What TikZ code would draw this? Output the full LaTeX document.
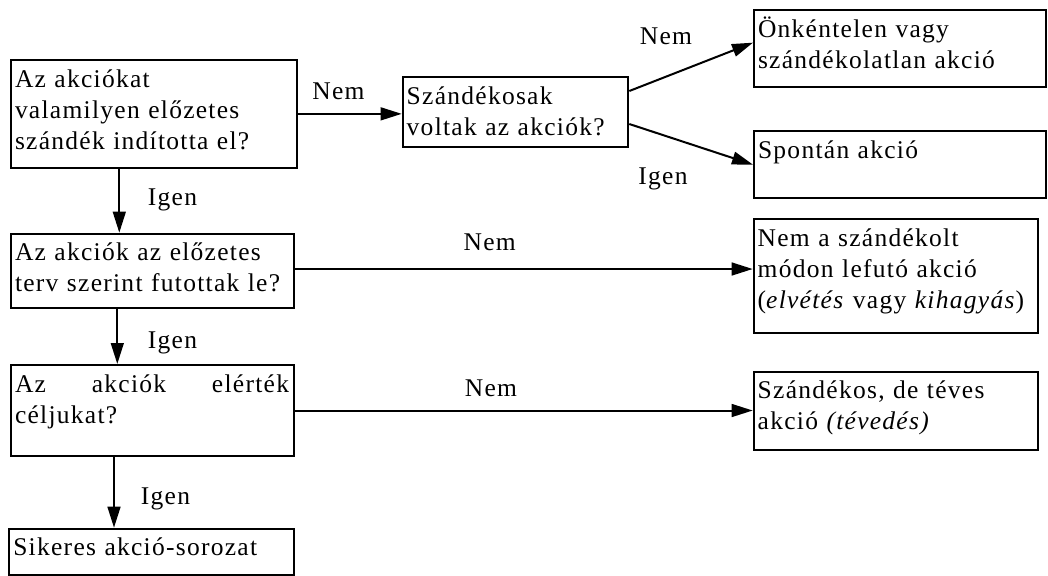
\documentclass[tikz,border=0pt]{standalone}
\usepackage{fontspec}
\setmainfont{Liberation Serif}[LetterSpace=5]
\usepackage{tikz}
\usetikzlibrary{arrows.meta}
\usetikzlibrary{positioning}
\usetikzlibrary{calc}
\tikzstyle{bx}=[draw,line width=1pt,anchor=north west,inner xsep=2pt,inner ysep=0pt,text height=13.6pt,align=left]
\tikzstyle{arr}=[line width=1pt,-{Triangle[length=10.5pt,width=6.4pt]}]
\tikzstyle{lbl}=[anchor=base,inner sep=0pt]

\begin{document}
\begin{tikzpicture}[x=0.5pt,y=-0.5pt,font=\fontsize{12.75pt}{15.5pt}\selectfont]
\useasboundingbox (0,0) rectangle (1048,575);
% kerdesek
\node[bx,text width=138.85pt,text depth=40.25pt] (q1) at (10,59) {Az akciókat\\valamilyen előzetes\\szándék indította el?};
\node[bx,text width=108.8pt,text depth=21.4pt] (q2) at (401.7,76) {Szándékosak\\voltak az akciók?};
\node[bx,text width=137.65pt,text depth=23.7pt] (q3) at (10,232.7) {Az akciók az előzetes\\terv szerint futottak le?};
\node[bx,text width=137.65pt,text depth=31.9pt] (q4) at (10,364) {\makebox[137pt][l]{Az\hfill akciók\hfill elérték}\\céljukat?};
% kimenetek
\node[bx,text width=142pt,text depth=24.75pt] (o1) at (753,9.3) {Önkéntelen vagy\\szándékolatlan akció};
\node[bx,text width=142pt,text depth=20.05pt] (o2) at (753,130) {Spontán akció};
\node[bx,text width=138pt,text depth=43.4pt] (o3) at (752.7,218.3) {Nem a szándékolt\\módon lefutó akció\\(\textit{elvétés} vagy \textit{kihagyás})};
\node[bx,text width=138pt,text depth=25.7pt] (o4) at (752.7,370.7) {Szándékos, de téves\\akció \textit{(tévedés)}};
\node[bx,text width=138.5pt,text depth=9.55pt] (o5) at (8.3,527.7) {Sikeres akció-sorozat};

\draw[arr] (q1.east) -- (q1.east -| q2.west);
\draw[arr] ([yshift=10.5pt]q2.east) -- ([yshift=3pt]o1.west);
\draw[arr] ([yshift=-6pt]q2.east) -- (o2.west);
\draw[arr] ([yshift=1pt]q3.east) -- ([yshift=1pt]q3.east -| o3.west);
\draw[arr] (q4.east) -- (q4.east -| o4.west);

\coordinate (a1) at ($(q1.south west)+(109.3,0)$);
\coordinate (a2) at ($(q3.south west)+(107.3,0)$);
\coordinate (a3) at ($(q4.south west)+(104,0)$);
\draw[arr] (a1) -- (a1 |- q3.north);
\draw[arr] (a2) -- (a2 |- q4.north);
\draw[arr] (a3) -- (a3 |- o5.north);

\draw (338.5,99) node[lbl] (n1) {Nem};
\draw (666,44.3) node[lbl] (n2) {Nem};
\draw (663,184.3) node[lbl] (i1) {Igen};
\draw (172.5,205) node[lbl] (i2) {Igen};
\draw (489.7,250.7) node[lbl] (n3) {Nem};
\draw (172.5,348.3) node[lbl] (i3) {Igen};
\draw (491,396.7) node[lbl] (n4) {Nem};
\draw (165.5,504) node[lbl] (i4) {Igen};
\end{tikzpicture}
\end{document}
